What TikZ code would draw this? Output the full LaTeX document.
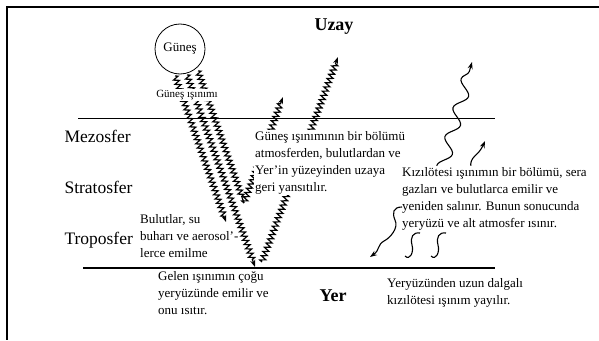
\documentclass[tikz,border=0pt]{standalone}
\usepackage{fontspec}
\setmainfont{Liberation Serif}
\usetikzlibrary{decorations.pathmorphing,arrows.meta}

\begin{document}
\begin{tikzpicture}[x=1pt, y=-1pt, font=\fontsize{13}{17}\selectfont]
  \tikzset{
    shortwave/.style={line width=1.2pt, decorate,
      decoration={zigzag, segment length=4.5pt, amplitude=2.8pt, post length=6pt}},
    longwave/.style={line width=1.1pt, decorate,
      decoration={snake, segment length=30pt, amplitude=6pt, post length=7pt}},
    tipped/.style={-{Stealth[length=7pt, width=5pt]}},
    layer/.style={anchor=west, font=\fontsize{17.5}{19}\selectfont},
    note/.style={anchor=north west, align=left, inner sep=1pt},
    place/.style={font=\fontsize{18}{20}\selectfont\bfseries}}
  \useasboundingbox (0,0) rectangle (599,340);
  % ---- frame and layer boundaries ----
  \draw[line width=1.6pt] (599,7) -- (7,7) -- (7,340);
  \draw[line width=0.8pt] (78,118) -- (495,118);
  \draw[line width=1.6pt] (83,268) -- (495,268);
  % ---- incoming solar radiation, three rays from the sun ----
  \coordinate (vtop) at (244,203);
  \coordinate (vground) at (262,262);
  \foreach \sx/\sy/\ex/\ey/\tp in {175/76/226/222/tipped, 187/75/255/267/tipped, 198/71/244/203/} {
    \draw[shortwave, \tp] (\sx,\sy) -- (\ex,\ey);
  }
  % ---- reflected back to space ----
  \coordinate (refla) at (283,97);
  \coordinate (reflb) at (338,57);
  \draw[shortwave, tipped] (vtop) -- (refla);
  \draw[shortwave, tipped] (vground) -- (reflb);
  % ---- infrared escaping upwards ----
  \coordinate (irout) at (472,62);
  \draw[longwave, tipped] (432,205) -- (irout);
  \draw[line width=1.1pt, tipped] (471,190) -- (471,168) .. controls (469,156) and (478,157) .. (485,141);
  % ---- sun and places ----
  \node[circle, draw, line width=0.8pt, minimum size=50pt, inner sep=0pt, font=\fontsize{13}{15}\selectfont] (gunes) at (180,49) {Güneş};
  \node[fill=white, inner sep=1pt, font=\fontsize{11}{13}\selectfont] (isinim) at (187,95) {Güneş ışınımı};
  \node[place] (uzay) at (334,27) {Uzay};
  \node[place] (yer) at (333,296) {Yer};
  % ---- atmosphere layers ----
  \foreach \nm/\y/\t in {mezo/136/Mezosfer, strato/187/Stratosfer, tropo/240/Troposfer} {
    \node[layer] (\nm) at (61,\y) {\t};
  }
  % ---- explanations ----
  \node[note, fill=white] (yansima) at (254,130) {Güneş ışınımının bir bölümü\\ atmosferden, bulutlardan ve\\ Yer'in yüzeyinden uzaya\\ geri yansıtılır.};
  \node[note, fill=white] (kizil) at (401,166) {Kızılötesi ışınımın bir bölümü, sera\\ gazları ve bulutlarca emilir ve\\ yeniden salınır. Bunun sonucunda\\ yeryüzü ve alt atmosfer ısınır.};
  \node[note] (bulut) at (139,213) {Bulutlar, su\\ buharı ve aerosol'-\\ lerce emilme};
  \node[note] (gelen) at (157,270) {Gelen ışınımın çoğu\\ yeryüzünde emilir ve\\ onu ısıtır.};
  \node[note] (uzun) at (386,277) {Yeryüzünden uzun dalgalı\\ kızılötesi ışınım yayılır.};
  % ---- infrared back to the ground and from the ground ----
  \draw[line width=1.1pt, tipped] (402,207) .. controls (393,207) and (392,213) .. (395,220)
    .. controls (399,228) and (390,238) .. (384,241) .. controls (377,245) and (380,250) .. (370,257);
  \foreach \dx in {0,26} {
    \draw[line width=1.1pt] (405+\dx,256) .. controls (410+\dx,261) and (414+\dx,252) .. (412+\dx,245)
      .. controls (410+\dx,237) and (413+\dx,232) .. (420+\dx,233);
  }
\end{tikzpicture}
\end{document}
